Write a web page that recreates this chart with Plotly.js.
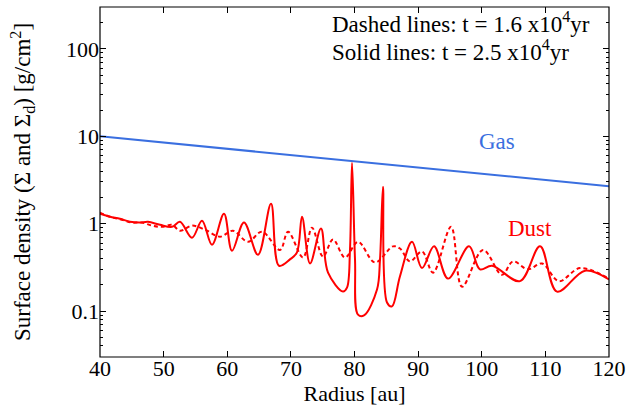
<!DOCTYPE html>
<html>
<head>
<meta charset="utf-8">
<script src="https://cdn.plot.ly/plotly-3.0.1.min.js"></script>
<style>html,body{margin:0;padding:0;background:#fff;}#chart{width:632px;height:409px;}</style>
</head>
<body>
<div id="chart"></div>
<script>
// Gas surface density (same for both times)
const gasRadius = [40, 50, 60, 70, 80, 90, 100, 110, 120];
const gasSigma  = [10.0, 8.48, 7.20, 6.11, 5.18, 4.40, 3.73, 3.16, 2.68];

// Dust, t = 2.5e4 yr (solid)
const dustSolidRadius = [40.0, 41.57, 43.14, 44.72, 46.29, 47.54, 49.43, 51.32, 52.57, 54.46, 56.03, 57.60, 59.49, 60.75, 62.63, 64.83, 66.88, 68.13, 69.86, 70.96, 71.75, 73.01, 74.73, 75.84, 78.19, 78.82, 79.29, 79.61, 80.08, 80.55, 81.49, 83.54, 84.01, 84.48, 85.11, 85.89, 87.15, 89.04, 90.61, 92.50, 94.70, 98.00, 99.72, 101.61, 106.01, 109.16, 111.83, 116.23, 120.0];
const dustSolidSigma  = [1.30, 1.20, 1.14, 1.05, 1.03, 1.05, 0.97, 0.92, 1.05, 0.69, 1.08, 0.575, 1.30, 0.49, 1.03, 0.44, 1.69, 0.33, 0.39, 0.47, 1.20, 0.35, 0.88, 0.275, 0.167, 0.185, 0.50, 4.98, 0.39, 0.091, 0.089, 0.176, 0.39, 2.65, 0.125, 0.113, 0.25, 0.62, 0.31, 0.55, 0.235, 0.55, 0.30, 0.33, 0.22, 0.55, 0.167, 0.29, 0.23];

// Dust, t = 1.6e4 yr (dashed)
const dustDashedRadius = [40.0, 41.57, 43.46, 45.03, 46.60, 48.17, 49.74, 51.32, 52.57, 54.46, 56.50, 58.86, 60.90, 63.26, 65.46, 68.29, 69.55, 71.91, 73.32, 75.05, 76.62, 78.51, 80.55, 83.22, 86.05, 87.15, 88.72, 90.61, 92.34, 95.17, 96.90, 100.20, 103.18, 104.91, 107.27, 109.47, 112.14, 115.44, 120.0];
const dustDashedSigma  = [1.34, 1.20, 1.11, 1.03, 1.03, 0.95, 0.92, 0.97, 0.83, 0.95, 0.854, 0.71, 0.83, 0.62, 0.81, 0.50, 0.81, 0.41, 0.90, 0.42, 0.66, 0.41, 0.62, 0.36, 0.55, 0.52, 0.37, 0.48, 0.275, 0.92, 0.19, 0.50, 0.26, 0.37, 0.30, 0.35, 0.22, 0.31, 0.235];

const xTicks = [40, 50, 60, 70, 80, 90, 100, 110, 120];
const yTicks = [0.1, 1, 10, 100];
const yTickLabels = ['0.1', '1', '10', '100'];
const yMinorTicks = [0.03, 0.04, 0.05, 0.06, 0.07, 0.08, 0.09, 0.2, 0.3, 0.4, 0.5, 0.6, 0.7, 0.8, 0.9, 2, 3, 4, 5, 6, 7, 8, 9, 20, 30, 40, 50, 60, 70, 80, 90, 200, 300];

const serif = "'Liberation Serif', 'Times New Roman', Times, serif";
const traces = [
  {x: gasRadius, y: gasSigma, mode: 'lines', line: {color: '#3a6fe0', width: 2}, hoverinfo: 'skip'},
  {x: dustDashedRadius, y: dustDashedSigma, mode: 'lines', line: {color: '#ff0000', width: 2, dash: '4px,3px', shape: 'spline', smoothing: 1.0}},
  {x: dustSolidRadius, y: dustSolidSigma, mode: 'lines', line: {color: '#ff0000', width: 2, shape: 'spline', smoothing: 1.0}}
];

const layout = {
  width: 632, height: 409,
  margin: {l: 100, r: 23, t: 7, b: 52},
  paper_bgcolor: '#fff', plot_bgcolor: '#fff',
  showlegend: false,
  font: {family: serif, color: '#000', size: 22},
  xaxis: {
    range: [40, 120], tickvals: xTicks, ticktext: xTicks.map(String),
    ticks: 'inside', ticklen: 6, tickwidth: 1, tickcolor: '#000',
    showline: false, mirror: 'ticks',
    showgrid: false, zeroline: false,
    ticklabelstandoff: -4,
    tickfont: {family: serif, size: 22, color: '#000'},
    title: {text: 'Radius [au]', font: {family: serif, size: 22, color: '#000'}, standoff: 0}
  },
  yaxis: {
    type: 'log', range: [-1.526, 2.48],
    tickvals: yTicks, ticktext: yTickLabels,
    ticks: 'inside', ticklen: 6, tickwidth: 1, tickcolor: '#000',
    minor: {tickvals: yMinorTicks, ticks: 'inside', ticklen: 3, tickcolor: '#000', showgrid: false},
    showline: false, mirror: 'ticks',
    showgrid: false, zeroline: false,
    tickfont: {family: serif, size: 22, color: '#000'},
    title: {text: 'Surface density (Σ and Σ<sub>d</sub>) [g/cm<sup>2</sup>]', font: {family: serif, size: 23, color: '#000'}, standoff: 28}
  },
  shapes: [
    {type: 'rect', xref: 'paper', yref: 'paper', x0: 0, x1: 1, y0: 0, y1: 1, line: {color: '#000', width: 1.2}, fillcolor: 'rgba(0,0,0,0)', layer: 'above'}
  ],
  annotations: [
    {xref: 'paper', yref: 'paper', x: 0.452, y: 0.955, xanchor: 'left', yanchor: 'middle', showarrow: false,
     text: 'Dashed lines: t = 1.6 x10<sup>4</sup>yr', font: {family: serif, size: 23, color: '#000'}},
    {xref: 'paper', yref: 'paper', x: 0.452, y: 0.875, xanchor: 'left', yanchor: 'middle', showarrow: false,
     text: 'Solid lines: t = 2.5 x10<sup>4</sup>yr', font: {family: serif, size: 23, color: '#000'}},
    {x: 102.4, y: 0.937, xanchor: 'center', yanchor: 'middle', showarrow: false,
     text: 'Gas', font: {family: serif, size: 23, color: '#3a6fe0'}},
    {x: 107.6, y: -0.057, xanchor: 'center', yanchor: 'middle', showarrow: false,
     text: 'Dust', font: {family: serif, size: 23, color: '#ff0000'}}
  ]
};

Plotly.newPlot('chart', traces, layout, {staticPlot: true, displayModeBar: false});
</script>
</body>
</html>
